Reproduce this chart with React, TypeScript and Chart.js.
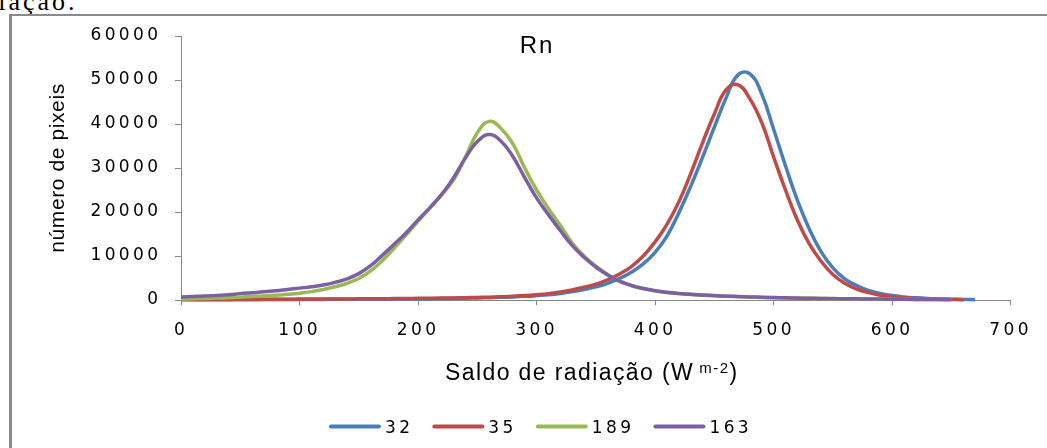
import React, { useEffect, useRef } from "react";
import { Chart, registerables } from "chart.js";

Chart.register(...registerables);

const radiationValues = [
  0, 10, 20, 30, 40, 50, 60, 70, 80, 90,
  100, 110, 120, 130, 140, 150, 160, 170, 180, 190,
  200, 210, 220, 230, 240, 250, 260, 270, 280, 290,
  300, 310, 320, 330, 340, 350, 360, 370, 380, 390,
  400, 410, 420, 430, 440, 450, 460, 470, 480, 490,
  500, 510, 520, 530, 540, 550, 560, 570, 580, 590,
  600, 610, 620, 630, 640, 650, 660, 670,
];

const series32 = [
  50, 55, 60, 65, 70, 75, 80, 90, 100, 110,
  120, 130, 140, 150, 160, 170, 190, 210, 230, 250,
  280, 310, 340, 380, 420, 470, 530, 600, 700, 830,
  1000, 1200, 1500, 1900, 2400, 3000, 3800, 4900, 6300, 8200,
  10800, 14500, 19800, 25800, 32400, 39300, 46000, 51200, 51400, 46800,
  38800, 30500, 22700, 16200, 11000, 7300, 4800, 3300, 2200, 1500,
  1000, 700, 500, 350, 250, 180, 120, 70,
];

const series35 = [
  100, 110, 120, 130, 140, 150, 160, 170, 180, 190,
  200, 210, 220, 240, 250, 260, 280, 300, 320, 340,
  370, 400, 430, 470, 520, 580, 650, 740, 850, 1000,
  1200, 1450, 1800, 2300, 2900, 3600, 4600, 5900, 7600, 10000,
  13200, 17200, 22300, 28700, 35700, 42300, 47800, 48900, 45700, 40300,
  32500, 25000, 18200, 12800, 8800, 5800, 3800, 2500, 1700, 1100,
  750, 500, 350, 250, 170, 120, 80, null,
];

const series189 = [
  200, 280, 350, 430, 520, 650, 780, 920, 1080, 1300,
  1550, 1900, 2400, 3000, 3800, 4900, 6600, 9000, 11800, 14800,
  17900, 20900, 24000, 27300, 32500, 38000, 40600, 39000, 35500, 30000,
  25000, 20800, 17000, 13000, 10000, 7700, 5800, 4300, 3300, 2600,
  2100, 1700, 1450, 1250, 1100, 950, 830, 730, 650, 580,
  520, 470, 420, 380, 340, 300, 270, 240, 210, 190,
  170, 150, 130, 110, 100, 80, null, null,
];

const series163 = [
  700, 800, 900, 1050, 1200, 1450, 1650, 1850, 2100, 2400,
  2700, 3000, 3400, 4000, 4800, 6000, 7800, 10200, 12700, 15300,
  18200, 21000, 24000, 27800, 32300, 36000, 37600, 36100, 32600, 27800,
  23200, 19400, 15800, 12400, 9700, 7500, 5700, 4300, 3300, 2600,
  2100, 1750, 1500, 1300, 1150, 1000, 880, 780, 700, 620,
  560, 500, 450, 400, 360, 320, 290, 260, 230, 200,
  180, 160, 140, 120, 100, 90, null, null,
];

const seriesNames = ["32", "35", "189", "163"];
const seriesColors = ["#4A7EBB", "#BE4B48", "#98B954", "#7D60A0"];
const seriesValues = [series32, series35, series189, series163];

const xTickValues = [0, 100, 200, 300, 400, 500, 600, 700];
const xTickLabels = ["0", "100", "200", "300", "400", "500", "600", "700"];
const yTickValues = [0, 10000, 20000, 30000, 40000, 50000, 60000];
const yTickLabels = ["0", "10000", "20000", "30000", "40000", "50000", "60000"];

const chartTitle = "Rn";
const yAxisTitle = "número de pixeis";
const xAxisTitleMain = "Saldo de radiação (W";
const xAxisTitleSup = "m-2";
const xAxisTitleEnd = ")";
const captionText = "radiação.";

const FAMILY = "'Liberation Sans', Arial, sans-serif";
const TICK_FAMILY = "'DejaVu Sans', 'Liberation Sans', sans-serif";
const AXIS_COLOR = "#868686";
const TICK_SPACING = "3.4px";

export default function App() {
  const canvasRef = useRef<HTMLCanvasElement | null>(null);

  useEffect(() => {
    document.body.style.margin = "0";
    const canvas = canvasRef.current;
    if (!canvas) return;

    const textPlugin = {
      id: "excelTexts",
      beforeLayout(chart: any) {
        chart.ctx.letterSpacing = TICK_SPACING;
      },
      beforeDraw(chart: any) {
        chart.ctx.letterSpacing = TICK_SPACING;
      },
      afterDraw(chart: any) {
        const ctx = chart.ctx as CanvasRenderingContext2D & { letterSpacing: string };
        ctx.save();
        ctx.fillStyle = "#000";
        ctx.textBaseline = "alphabetic";

        // chart title
        ctx.font = `24px ${FAMILY}`;
        ctx.letterSpacing = "2px";
        ctx.textAlign = "center";
        ctx.fillText(chartTitle, 537, 53);

        // y axis title
        ctx.save();
        ctx.translate(64, 168);
        ctx.rotate(-Math.PI / 2);
        ctx.font = `21px ${FAMILY}`;
        ctx.letterSpacing = "0.6px";
        ctx.textAlign = "center";
        ctx.fillText(yAxisTitle, 0, 0);
        ctx.restore();

        // x axis title
        ctx.textAlign = "left";
        ctx.font = `23px ${FAMILY}`;
        ctx.letterSpacing = "1.4px";
        let x = 445;
        ctx.fillText(xAxisTitleMain, x, 380);
        x += ctx.measureText(xAxisTitleMain).width + 5;
        ctx.font = `15px ${FAMILY}`;
        ctx.letterSpacing = "1.5px";
        ctx.fillText(xAxisTitleSup, x, 373);
        x += ctx.measureText(xAxisTitleSup).width;
        ctx.font = `23px ${FAMILY}`;
        ctx.letterSpacing = "1.4px";
        ctx.fillText(xAxisTitleEnd, x, 380);

        // legend
        const ds = chart.data.datasets;
        ctx.font = `17px ${TICK_FAMILY}`;
        ctx.letterSpacing = TICK_SPACING;
        const widths = ds.map((d: any) => ctx.measureText(d.label).width);
        const itemW = (i: number) => 52 + 5 + widths[i];
        let total = 0;
        for (let i = 0; i < ds.length; i++) total += itemW(i);
        total += 18 * (ds.length - 1);
        let lx = 541 - total / 2;
        for (let i = 0; i < ds.length; i++) {
          ctx.strokeStyle = ds[i].borderColor;
          ctx.lineWidth = 4;
          ctx.lineCap = "round";
          ctx.beginPath();
          ctx.moveTo(lx + 2, 426.5);
          ctx.lineTo(lx + 50, 426.5);
          ctx.stroke();
          ctx.fillStyle = "#000";
          ctx.fillText(ds[i].label, lx + 56, 433);
          lx += itemW(i) + 18;
        }
        ctx.restore();
      },
    };

    const chart = new Chart(canvas, {
      type: "line",
      data: {
        datasets: seriesNames.map((name, i) => ({
          label: name,
          data: radiationValues.map((xv, j) => ({ x: xv, y: seriesValues[i][j] })),
          borderColor: seriesColors[i],
          backgroundColor: seriesColors[i],
          borderWidth: 3.5,
          pointRadius: 0,
          pointHoverRadius: 0,
          fill: false,
          tension: 0.45,
          order: seriesNames.length - i,
          spanGaps: false,
          clip: false,
        })) as any,
      },
      options: {
        animation: false,
        responsive: false,
        devicePixelRatio: 1,
        events: [],
        layout: { padding: { left: 0, top: 36, right: 33, bottom: 0 } },
        plugins: {
          legend: { display: false },
          title: { display: false },
          tooltip: { enabled: false },
        },
        scales: {
          x: {
            type: "linear",
            min: 0,
            max: 700,
            afterBuildTicks: (s: any) => {
              s.ticks = xTickValues.map((v) => ({ value: v }));
            },
            afterFit: (s: any) => {
              s.height = 148;
            },
            grid: {
              drawOnChartArea: false,
              drawTicks: true,
              tickLength: 5,
              color: AXIS_COLOR,
            },
            border: { display: true, color: AXIS_COLOR, width: 1 },
            ticks: {
              padding: 15,
              color: "#000",
              font: { size: 17, family: TICK_FAMILY },
              maxRotation: 0,
              autoSkip: false,
              callback: (_v: any, i: number) => xTickLabels[i],
            },
          },
          y: {
            type: "linear",
            min: 0,
            max: 60000,
            afterBuildTicks: (s: any) => {
              s.ticks = yTickValues.map((v) => ({ value: v }));
            },
            afterFit: (s: any) => {
              s.width = 181;
            },
            grid: {
              drawOnChartArea: false,
              drawTicks: true,
              tickLength: 6,
              color: AXIS_COLOR,
            },
            border: { display: true, color: AXIS_COLOR, width: 1 },
            ticks: {
              padding: 13.5,
              color: "#000",
              font: { size: 17, family: TICK_FAMILY },
              autoSkip: false,
              callback: (_v: any, i: number) => yTickLabels[i],
            },
          },
        },
      } as any,
      plugins: [textPlugin as any],
    });

    return () => {
      chart.destroy();
    };
  }, []);

  return (
    <div
      style={{
        position: "relative",
        width: 1047,
        height: 448,
        overflow: "hidden",
        background: "#fff",
      }}
    >
      <div
        style={{
          position: "absolute",
          left: -44,
          top: -11,
          fontFamily: "'Liberation Serif', 'Times New Roman', serif",
          fontSize: 26,
          lineHeight: "26px",
          letterSpacing: 3,
          color: "#000",
          whiteSpace: "nowrap",
        }}
      >
        {captionText}
      </div>
      <div
        style={{
          position: "absolute",
          left: 9,
          top: 14,
          width: 2000,
          height: 1000,
          borderLeft: "3px solid #8a8a8a",
          borderTop: "2px solid #8a8a8a",
          boxSizing: "border-box",
        }}
      />
      <canvas
        ref={canvasRef}
        width={1047}
        height={448}
        style={{ position: "absolute", left: 0, top: 0, display: "block" }}
      />
    </div>
  );
}
